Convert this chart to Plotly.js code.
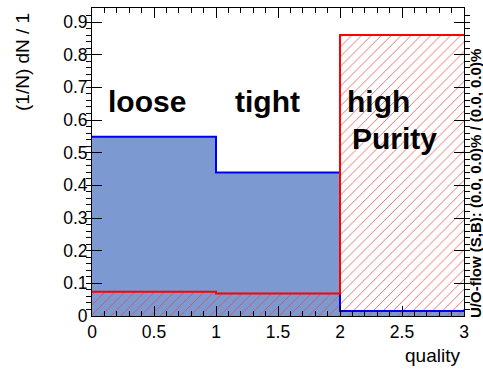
<!DOCTYPE html>
<html>
<head>
<meta charset="utf-8">
<script src="https://cdn.plot.ly/plotly-3.0.1.min.js"></script>
<style>
  html, body { margin: 0; padding: 0; background: #ffffff; }
  #chart { width: 483px; height: 370px; }
</style>
</head>
<body>
<div id="chart"></div>
<script>
// Histogram of the "quality" variable, three bins, normalised to unit area
const binEdges = [0, 1, 2, 3];
const signal = [0.549, 0.439, 0.015];      // filled blue histogram
const background = [0.074, 0.069, 0.860];  // red hatched histogram
const categoryNames = ['loose', 'tight', 'high', 'Purity'];
const overflowText = 'U/O-flow (S,B): (0.0, 0.0)% / (0.0, 0.0)%';
const xTitle = 'quality';
const yTitle = '(1/N) dN / 1';

const centers = signal.map((_, i) => (binEdges[i] + binEdges[i + 1]) / 2);
const widths = signal.map((_, i) => binEdges[i + 1] - binEdges[i]);
const stepY = v => v.concat([v[v.length - 1]]);

const FONT = 'Liberation Sans, Arial, Helvetica, sans-serif';

const traces = [
  {
    type: 'bar', x: centers, y: signal, width: widths,
    marker: { color: '#7d99d1', line: { width: 0 } },
    hoverinfo: 'skip', showlegend: false
  },
  {
    type: 'bar', x: centers, y: background, width: widths,
    marker: {
      color: 'rgba(0,0,0,0)', line: { width: 0 },
      pattern: { shape: '/', fgcolor: '#e04848', bgcolor: 'rgba(0,0,0,0)',
                 size: 7, solidity: 0.11, fillmode: 'replace' }
    },
    hoverinfo: 'skip', showlegend: false
  },
  {
    type: 'scatter', mode: 'lines', x: binEdges, y: stepY(signal),
    line: { shape: 'hv', color: '#0000ee', width: 2 },
    hoverinfo: 'skip', showlegend: false
  },
  {
    type: 'scatter', mode: 'lines', x: binEdges, y: stepY(background),
    line: { shape: 'hv', color: '#ff0000', width: 2 },
    hoverinfo: 'skip', showlegend: false
  }
];

const labelFont = { family: FONT, size: 30, color: '#000000', weight: 'bold' };
const plotH = 308, plotW = 372;

const tickStyle = { family: FONT, size: 17.5, color: '#000000' };
const clear = 'rgba(0,0,0,0)';

const layout = {
  width: 483, height: 370,
  margin: { l: 92, r: 19, t: 8, b: 54 },
  paper_bgcolor: '#ffffff', plot_bgcolor: '#ffffff',
  barmode: 'overlay', bargap: 0,
  showlegend: false,
  font: { family: FONT, color: '#000000' },
  xaxis: {
    color: '#000000',
    range: [0, 3], dtick: 0.5,
    ticks: 'inside', ticklen: 10,
    minor: { dtick: 0.1, ticks: 'inside', ticklen: 5 },
    showline: true, mirror: 'ticks',
    gridcolor: clear, zerolinecolor: '#000000',
    tickfont: tickStyle
  },
  yaxis: {
    color: '#000000',
    range: [0, 0.943], dtick: 0.1,
    ticks: 'inside', ticklen: 10,
    minor: { dtick: 0.02, ticklen: 5 },
    showline: true, mirror: 'ticks',
    gridcolor: clear, zerolinecolor: '#000000',
    tickfont: tickStyle
  },
  annotations: [
    { text: categoryNames[0], xref: 'x', yref: 'y', x: 0.113, y: 0.656,
      xanchor: 'left', yanchor: 'middle', showarrow: false, font: labelFont },
    { text: categoryNames[1], xref: 'x', yref: 'y', x: 1.137, y: 0.656,
      xanchor: 'left', yanchor: 'middle', showarrow: false, font: labelFont },
    { text: categoryNames[2], xref: 'x', yref: 'y', x: 2.04, y: 0.656,
      xanchor: 'left', yanchor: 'middle', showarrow: false, font: labelFont },
    { text: categoryNames[3], xref: 'x', yref: 'y', x: 2.08, y: 0.543,
      xanchor: 'left', yanchor: 'middle', showarrow: false, font: labelFont },
    { text: xTitle, xref: 'paper', yref: 'paper', x: (462 - 92) / plotW, y: (316 - 355) / plotH,
      xanchor: 'right', yanchor: 'middle', showarrow: false,
      font: { family: FONT, size: 19, color: '#000000' } },
    { text: yTitle, xref: 'paper', yref: 'paper', x: (23 - 92) / plotW, y: (316 - 11) / plotH,
      xanchor: 'center', yanchor: 'top', textangle: -90, showarrow: false,
      font: { family: FONT, size: 19, color: '#000000' } },
    { text: overflowText, xref: 'paper', yref: 'paper', x: (475 - 92) / plotW, y: (316 - 184) / plotH,
      xanchor: 'center', yanchor: 'middle', textangle: -90, showarrow: false,
      font: { family: FONT, size: 15, color: '#000000', weight: 'bold' } }
  ]
};

Plotly.newPlot('chart', traces, layout, { staticPlot: true, displayModeBar: false });
</script>
</body>
</html>
